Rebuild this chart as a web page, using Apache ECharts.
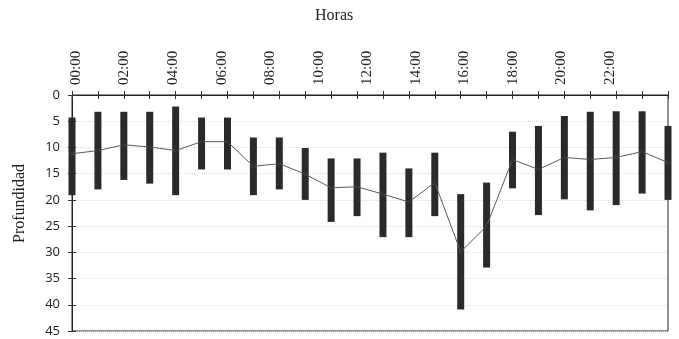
<!DOCTYPE html>
<html>
<head>
<meta charset="utf-8">
<script src="https://cdn.jsdelivr.net/npm/echarts@6/dist/echarts.min.js"></script>
<style>
  html, body { margin: 0; padding: 0; background: #fff; }
  #chart { width: 679px; height: 339px; }
</style>
</head>
<body>
<div id="chart"></div>
<script>
// Hourly depth: mean with low/high range per hour
const hours = ['00:00','01:00','02:00','03:00','04:00','05:00','06:00','07:00','08:00','09:00','10:00','11:00',
               '12:00','13:00','14:00','15:00','16:00','17:00','18:00','19:00','20:00','21:00','22:00','23:00'];
const hourLabels = ['00:00','02:00','04:00','06:00','08:00','10:00','12:00','14:00','16:00','18:00','20:00','22:00'];
const meanDepth = [11.2,10.6,9.5,9.9,10.6,8.9,8.9,13.6,13.1,15.1,17.7,17.5,18.9,20.4,16.7,29.9,25.0,12.3,14.2,11.9,12.3,11.9,10.8,12.9];
const lowDepth  = [4.3,3.2,3.2,3.2,2.2,4.3,4.3,8.1,8.1,10.1,12.1,12.1,11.0,14.0,11.0,18.9,16.7,7.0,5.9,4.0,3.2,3.1,3.1,5.9];
const highDepth = [19.1,18.0,16.2,16.9,19.1,14.2,14.2,19.1,18.0,20.0,24.2,23.1,27.1,27.1,23.1,40.9,32.9,17.8,22.9,19.9,22.0,21.0,18.8,20.0];
const depthTicks = { min: 0, max: 45, interval: 5 };

const serif = '"Liberation Serif", "DejaVu Serif", serif';
const sans = '"Open Sans", "Liberation Sans", sans-serif';

const rangeData = hours.map((h, i) => [i, lowDepth[i], highDepth[i]]);

const chart = echarts.init(document.getElementById('chart'), null, { renderer: 'canvas' });

// Short tick that crosses an axis line
const crossTick = { show: true, length: 4, lineStyle: { color: '#333', width: 1 } };

chart.setOption({
  animation: false,
  backgroundColor: '#fff',
  grid: [
    { left: 72, right: 11, top: 95, bottom: 8, show: true, borderColor: '#222', borderWidth: 1, backgroundColor: 'transparent' },
    { left: 76, right: 69, top: 95, height: 1 }
  ],
  xAxis: [
    {
      type: 'category', data: hours, gridIndex: 0, position: 'top', boundaryGap: false,
      axisLine: { show: true, onZero: false, lineStyle: { color: '#222', width: 1 } },
      axisTick: Object.assign({}, crossTick, { inside: false, interval: 0 }),
      axisLabel: { show: false },
      splitLine: { show: false }
    },
    {
      type: 'category', data: hours, gridIndex: 0, position: 'top', boundaryGap: false,
      axisLine: { show: false, onZero: false },
      axisTick: Object.assign({}, crossTick, { inside: true, interval: 0 }),
      axisLabel: { show: false },
      splitLine: { show: false }
    },
    {
      type: 'category', data: hourLabels, gridIndex: 1, position: 'top', boundaryGap: false,
      axisLine: { show: false }, axisTick: { show: false },
      axisLabel: { show: true, rotate: 90, margin: 10, fontFamily: serif, fontSize: 15, color: '#222', interval: 0 }
    }
  ],
  yAxis: [
    {
      type: 'value', gridIndex: 0, inverse: true,
      min: depthTicks.min, max: depthTicks.max, interval: depthTicks.interval,
      axisLine: { show: true, onZero: false, lineStyle: { color: '#222', width: 1 } },
      axisTick: Object.assign({}, crossTick, { inside: false }),
      axisLabel: { margin: 12, fontFamily: sans, fontSize: 13, color: '#222' },
      splitLine: { show: true, lineStyle: { color: '#dcdcdc', type: 'dotted', width: 1 } }
    },
    {
      type: 'value', gridIndex: 0, inverse: true, position: 'left',
      min: depthTicks.min, max: depthTicks.max, interval: depthTicks.interval,
      axisLine: { show: false, onZero: false },
      axisTick: Object.assign({}, crossTick, { inside: true }),
      axisLabel: { show: false },
      splitLine: { show: false }
    },
    { type: 'value', gridIndex: 1, show: false }
  ],
  graphic: [
    { type: 'text', left: 315, top: 8, style: { text: 'Horas', font: '16px ' + serif, fill: '#222' } },
    { type: 'text', x: 12, y: 243, rotation: Math.PI / 2,
      style: { text: 'Profundidad', font: '16px ' + serif, fill: '#222' } }
  ],
  series: [
    {
      type: 'custom',
      xAxisIndex: 0, yAxisIndex: 0,
      data: rangeData,
      renderItem: function (params, api) {
        const top = api.coord([api.value(0), api.value(1)]);
        const bottom = api.coord([api.value(0), api.value(2)]);
        const w = 7;
        return {
          type: 'rect',
          shape: { x: top[0] - w / 2, y: top[1], width: w, height: bottom[1] - top[1] },
          style: { fill: '#2a2a2a' }
        };
      },
      z: 2
    },
    {
      type: 'line',
      xAxisIndex: 0, yAxisIndex: 0,
      data: meanDepth,
      symbol: 'rect', symbolSize: 4,
      lineStyle: { color: '#5a5a5a', width: 1 },
      itemStyle: { color: '#333' },
      z: 3
    }
  ]
});
</script>
</body>
</html>
